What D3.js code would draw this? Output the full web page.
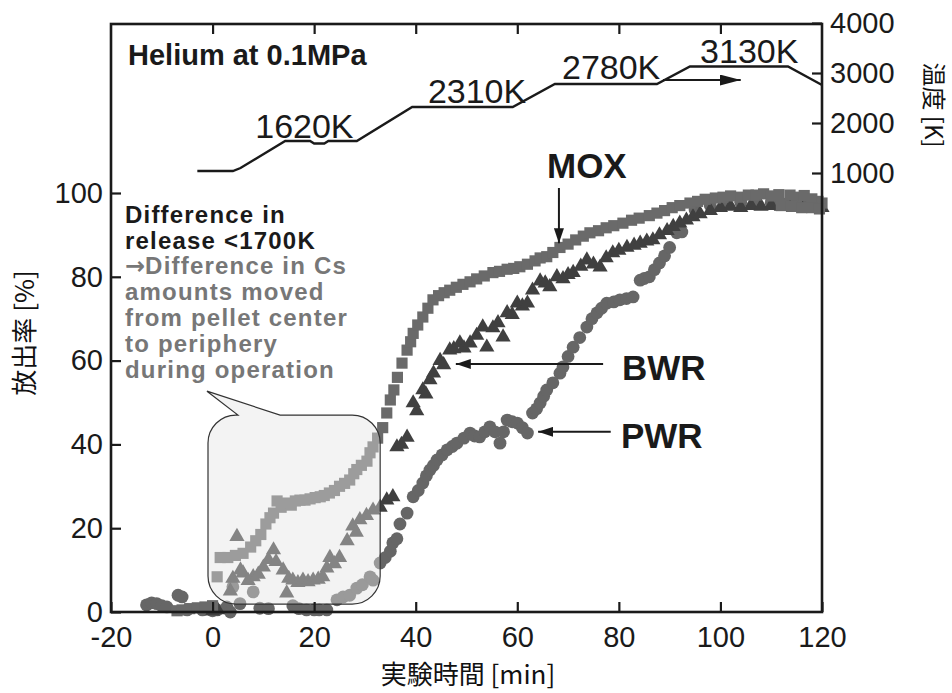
<!DOCTYPE html>
<html>
<head>
<meta charset="utf-8">
<script src="https://d3js.org/d3.v7.min.js"></script>
<style>
  body { margin: 0; background: #fff; }
  svg text { font-family: "Liberation Sans", Arial, sans-serif; }
  .cjk { font-family: "Noto Sans CJK JP", "Liberation Sans", sans-serif; }
</style>
</head>
<body>
<svg id="chart" width="952" height="693"></svg>
<script>
// ---- data ----
let xTicks = [-20, 0, 20, 40, 60, 80, 100, 120];
let yTicks = [0, 20, 40, 60, 80, 100];
let tTicks = [1000, 2000, 3000, 4000];

// temperature programme (K) vs time (min)
let tempTime = [-3, 4, 5.5, 14.3, 19.2, 20, 22, 22.8, 28.4, 39.3, 59.1, 67.4, 87.5, 94, 113.3, 120];
let tempK = [1040, 1040, 1100, 1640, 1640, 1590, 1590, 1640, 1640, 2320, 2320, 2780, 2780, 3130, 3130, 2760];
let tempLabels = ["1620K", "2310K", "2780K", "3130K"];
let tempLabelTime = [8.4, 42.4, 68.8, 96];
let tempLabelK = [1700, 2400, 2880, 3200];

// MOX (squares)
let moxTime = [-7, -6, -4.5, -3, -1.5, 0, 0.9, 1.5, 3, 4.5, 6, 7.5, 8.5, 9.5, 10.5, 11.3, 12, 12.7, 13.5, 14.6,
  15.5, 16.3, 17.2, 18.2, 19.2, 20.2, 21.2, 22, 23, 24, 25, 26, 27, 27.8, 28.4, 29.3, 30.4, 31, 31.6, 32.5,
  33.5, 34.3, 35, 35.7, 36.4, 37.3, 38.3, 39, 39.5, 40.4, 41.4, 42.4, 43.4, 44.5, 45.6, 46.7, 48, 49.3, 50.7, 52,
  53.5, 55.2, 56.5, 58, 59.3, 60.5, 62, 63.5, 64.5, 65.8, 67, 68.4, 70, 71.5, 73, 74.3, 76, 77.5, 79, 80.8,
  82.5, 84, 86, 87.5, 89, 90.5, 92, 94, 95.5, 97, 99, 100.5, 102, 104, 105.5, 107, 108.5, 110, 111.5, 113.7,
  115, 116.5, 118, 119.2, 120, 112, 114, 116, 118, 119.5];
let moxRelease = [0.3, 0.5, 0.8, 1, 1.2, 1.5, 8.4, 13, 13, 13.5, 14, 15.5, 17, 18.5, 21, 22.5, 23.6, 26.5, 25, 26,
  25.5, 26.5, 26.7, 26.7, 27, 27.3, 27.5, 27.8, 28.4, 29, 30, 30.7, 31.5, 33, 34, 35, 36, 38, 39.4, 41.5,
  44, 47.5, 50.6, 53, 56, 59.4, 62.5, 64.5, 66.5, 68.5, 70.4, 72.5, 74.5, 75.5, 76.2, 76.8, 77.5, 78.2, 78.8, 79.5,
  80.2, 81, 81.3, 81.8, 82, 82.4, 83, 83.8, 84.5, 84.8, 85.8, 87, 87.8, 88.8, 89.7, 90.5, 91, 91.7, 92.2, 92.8,
  93.5, 94, 94.6, 95.2, 95.8, 96.5, 97, 97.6, 98, 98.5, 98.8, 99, 99.3, 99, 99.5, 99.5, 99.8, 99.3, 99.6, 99.5,
  99, 99.4, 98.6, 98, 97.6, 97, 96.8, 96.5, 96.5, 96.2];

// BWR (triangles)
let bwrTime = [0, 1, 3.5, 4, 4.8, 5.5, 6, 7, 8, 9, 10, 11, 12, 12.5, 13.9, 14.6, 15, 15.8, 16.8, 17.8, 18.8, 19.8,
  20.8, 21.7, 22.5, 23.1, 24, 25, 26.5, 27.6, 28.3, 29, 30.3, 31.6, 33, 34.3, 35.5, 36.3, 37.2, 38.3, 39.5, 40.2,
  41.4, 42, 42.8, 43.5, 44.8, 45.5, 46.7, 47.5, 48.7, 49.5, 50.7, 52, 53.2, 54, 55.2, 56.2, 57.2, 58, 59, 60,
  61, 62, 63, 64.5, 65.5, 66.4, 67.8, 69, 70, 71, 72.5, 73.7, 75, 76.3, 77.5, 78.8, 80, 81.6, 83, 84.2, 85.5,
  86.7, 88, 89.5, 90.7, 92, 93.3, 94.6, 96, 98, 100, 102, 104, 106, 108, 110, 112, 114, 116, 118, 120];
let bwrRelease = [0.2, 0.5, 5, 8, 18, 10, 9.3, 7.5, 8.4, 9, 10.7, 12.5, 14.8, 12, 10, 4.5, 8, 7.6, 7, 7.6, 7.2, 7.6,
  7.8, 8.4, 10.5, 13, 11.5, 13, 17, 20.5, 19, 22, 23, 24.3, 25, 26.7, 27.5, 39.4, 40, 41.7, 49.9, 48,
  53, 52, 55.4, 57, 60, 59, 62.5, 62.8, 64.2, 63, 64.2, 66, 68, 63.2, 67.8, 69, 65.6, 71.4, 71, 73.7,
  73, 73.7, 76.8, 79, 78.5, 77.6, 80, 79.5, 80.5, 81, 82.5, 84, 83, 82.3, 84.5, 85.7, 86.3, 87, 87.5, 88, 88.5,
  88.8, 90, 91, 92, 92.8, 93.5, 94.3, 95, 95.8, 96.5, 96.8, 96.5, 97, 96.8, 97, 96.8, 97, 96.5, 96.8, 96.5];

// PWR (circles)
let pwrTime = [-13, -12, -11, -10, -9, -6.8, -6, -5, -2, 0, 0.9, 2.8, 3.5, 4, 5.4, 8, 9.3, 11, 15.8, 17, 18.5, 20,
  21, 22.5, 24.5, 25.7, 27, 28.4, 29.5, 31, 31.6, 33, 34, 35, 35.5, 36.3, 36.9, 38.3, 39.5, 40.5, 41.4, 42.1,
  42.8, 43.5, 44.2, 45.2, 46.2, 47.2, 48.1, 49.5, 50.7, 51.6, 52.6, 53.6, 54.6, 55.6, 56.6, 57.3, 58, 59, 60,
  61, 62, 63, 63.8, 64.5, 65.2, 65.8, 67, 68.4, 69, 70, 71, 72.3, 73.7, 74.7, 75.7, 76.6, 77.6, 79, 80.2,
  81.5, 82.8, 84.2, 85, 86, 87, 88, 89, 90, 91.4, 92.4, 95, 98, 101, 104, 107, 110, 113, 116, 119];
let pwrRelease = [1.7, 2.2, 2, 1.5, 1.2, 4, 3.6, 0.5, 0.5, 0.3, 0.5, 1.2, 0, 6, 2, 4.8, 0.9, 0.8, 1.5, 0.8, 0.5, 0.5,
  0.5, 0.5, 2.9, 3.6, 4, 5.7, 6.5, 8.4, 7.6, 11.7, 13, 14.5, 16.5, 17.5, 21, 23.6, 27.5, 29, 30.8, 32.5,
  33.9, 35, 36.3, 37.5, 38.7, 39.5, 40.3, 41.5, 42.7, 42, 41.8, 43, 44.2, 43, 40.3, 43, 45.8, 45.4, 45.1,
  44, 42.7, 47.5, 48.5, 49.9, 51.5, 53, 54.7, 57, 58.5, 61, 63.2, 65.5, 68, 70, 71.4, 72.5, 73.7, 74, 74.5,
  74.8, 75.2, 79.2, 79.6, 80, 81.7, 83.3, 85, 87, 90.5, 90.7, 96, 97, 97.5, 97.8, 97.5, 97.7, 97.4, 97.5, 97];

// annotation text
let noteBlack = ["Difference in", "release <1700K"];
let noteGrey = ["Difference in Cs", "amounts moved", "from pellet center", "to periphery", "during operation"];

// ---- layout ----
let svg = d3.select("#chart");
let padL = 111, padR = 822, padT = 24, padB = 612;

let x = d3.scaleLinear().domain([-20, 120]).range([padL, padR]);
let y = d3.scaleLinear().domain([0, 100]).range([padB, 193]);
let yT = d3.scaleLinear().domain([0, 4000]).range([223, 23]);

let defs = svg.append("defs");
function addHead(id, len, half) {
  defs.append("marker")
    .attr("id", id)
    .attr("viewBox", `0 ${-half} ${len} ${half * 2}`)
    .attr("refX", len).attr("refY", 0)
    .attr("markerUnits", "userSpaceOnUse")
    .attr("markerWidth", len).attr("markerHeight", half * 2)
    .attr("orient", "auto")
    .append("path")
    .attr("d", `M0,${-half}L${len},0L0,${half}Z`)
    .attr("fill", "#1a1a1a");
}
addHead("head", 15, 5);
addHead("headBig", 21, 5.5);

// data points
let pts = svg.append("g");
let pwr = pwrTime.map((t, i) => [t, pwrRelease[i]]);
let bwr = bwrTime.map((t, i) => [t, bwrRelease[i]]);
let mox = moxTime.map((t, i) => [t, moxRelease[i]]);

pts.selectAll(".pwr").data(pwr).enter().append("circle")
  .attr("cx", d => x(d[0])).attr("cy", d => y(d[1]))
  .attr("r", 6.4).attr("fill", "#666");

let tri = d3.symbol().type(d3.symbolTriangle).size(100);
pts.selectAll(".bwr").data(bwr).enter().append("path")
  .attr("d", tri)
  .attr("transform", d => `translate(${x(d[0])},${y(d[1])})`)
  .attr("fill", "#404040");

let sq = d3.symbol().type(d3.symbolSquare).size(125);
pts.selectAll(".mox").data(mox).enter().append("path")
  .attr("d", sq)
  .attr("transform", d => `translate(${x(d[0])},${y(d[1])})`)
  .attr("fill", "#6a6a6a");

// speech bubble, lays a light veil over the early points
let bx0 = x(-0.9), bx1 = x(33), by0 = y(47), by1 = y(1.9), r = 28;
let tip = [x(-1.1), y(52.7)], b1 = x(5), b2 = x(13.3);
let bubble = `M${bx0 + r},${by0}L${b1},${by0}L${tip[0]},${tip[1]}L${b2},${by0}L${bx1 - r},${by0}` +
  `A${r},${r} 0 0 1 ${bx1},${by0 + r}L${bx1},${by1 - r}A${r},${r} 0 0 1 ${bx1 - r},${by1}` +
  `L${bx0 + r},${by1}A${r},${r} 0 0 1 ${bx0},${by1 - r}L${bx0},${by0 + r}A${r},${r} 0 0 1 ${bx0 + r},${by0}Z`;
svg.append("path").attr("d", bubble)
  .attr("fill", "rgb(226,226,226)").attr("fill-opacity", 0.42)
  .attr("stroke", "#333").attr("stroke-width", 1.2);

// temperature line
let line = d3.line().x(d => x(d[0])).y(d => yT(d[1]));
svg.append("path")
  .datum(tempTime.map((t, i) => [t, tempK[i]]))
  .attr("d", line)
  .attr("fill", "none").attr("stroke", "#1a1a1a").attr("stroke-width", 2.4);

svg.selectAll(".tlab").data(tempLabels).enter().append("text")
  .attr("x", (d, i) => x(tempLabelTime[i]))
  .attr("y", (d, i) => yT(tempLabelK[i]))
  .attr("font-size", 34).attr("fill", "#1a1a1a")
  .text(d => d);

svg.append("line")
  .attr("x1", x(88.7)).attr("x2", x(104))
  .attr("y1", yT(2860)).attr("y2", yT(2860))
  .attr("stroke", "#1a1a1a").attr("stroke-width", 2)
  .attr("marker-end", "url(#headBig)");

// frame
svg.append("rect")
  .attr("x", padL).attr("y", padT)
  .attr("width", padR - padL).attr("height", padB - padT)
  .attr("fill", "none").attr("stroke", "#1a1a1a").attr("stroke-width", 2.6);

// axes
function styleAxis(g) {
  g.select(".domain").remove();
  g.selectAll(".tick line").attr("stroke", "#1a1a1a").attr("stroke-width", 2.2);
  g.selectAll(".tick text").attr("fill", "#1a1a1a").attr("font-size", 29)
    .attr("font-family", "Liberation Sans, Arial, sans-serif");
}
let plain = d => String(d);
svg.append("g").attr("transform", `translate(0,${padB})`)
  .call(d3.axisBottom(x).tickValues(xTicks).tickSize(-10).tickPadding(14).tickFormat(plain))
  .call(styleAxis);
svg.append("g").attr("transform", `translate(0,${padT})`)
  .call(d3.axisTop(x).tickValues(xTicks.slice(1, -1)).tickSize(-10).tickFormat(""))
  .call(styleAxis);
svg.append("g").attr("transform", `translate(${padL},0)`)
  .call(d3.axisLeft(y).tickValues(yTicks).tickSize(-10).tickPadding(8).tickFormat(plain))
  .call(styleAxis);
svg.append("g").attr("transform", `translate(${padR},0)`)
  .call(d3.axisRight(yT).tickValues(tTicks).tickSize(-10).tickPadding(8).tickFormat(plain))
  .call(styleAxis);

// axis titles
svg.append("text").attr("class", "cjk")
  .attr("x", 468).attr("y", 684).attr("text-anchor", "middle")
  .attr("font-size", 26).attr("fill", "#111")
  .text("実験時間 [min]");
svg.append("text").attr("class", "cjk")
  .attr("transform", "translate(34,333) rotate(-90)").attr("text-anchor", "middle")
  .attr("font-size", 26).attr("fill", "#111")
  .text("放出率 [%]");
svg.append("text").attr("class", "cjk")
  .attr("transform", "translate(925,105) rotate(90)").attr("text-anchor", "middle")
  .attr("font-size", 24).attr("fill", "#111")
  .text("温度 [K]");

// labels and pointers
svg.append("text").attr("x", 128).attr("y", 65)
  .attr("font-size", 29).attr("font-weight", "bold").attr("fill", "#1a1a1a")
  .text("Helium at 0.1MPa");

let bold = { "font-size": 35, "font-weight": "bold", "fill": "#1a1a1a" };
function label(txt, t, v, anchor) {
  let el = svg.append("text").attr("x", x(t)).attr("y", y(v)).attr("text-anchor", anchor).text(txt);
  Object.keys(bold).forEach(k => el.attr(k, bold[k]));
}
label("MOX", 73.7, 103.6, "middle");
label("BWR", 80.6, 55.4, "start");
label("PWR", 80.4, 39.1, "start");

function pointer(t1, v1, t2, v2) {
  svg.append("line")
    .attr("x1", x(t1)).attr("y1", y(v1)).attr("x2", x(t2)).attr("y2", y(v2))
    .attr("stroke", "#1a1a1a").attr("stroke-width", 2)
    .attr("marker-end", "url(#head)");
}
pointer(68.2, 101.2, 68.2, 88);
pointer(76.9, 59.2, 47.9, 59.2);
pointer(78.4, 43, 64.1, 43);

// note text
let note = svg.append("g").attr("font-size", 24).attr("font-weight", "bold").attr("letter-spacing", 1.2);
noteBlack.forEach((s, i) => {
  note.append("text").attr("x", 125).attr("y", 223 + i * 25.8).attr("fill", "#1a1a1a").text(s);
});
noteGrey.forEach((s, i) => {
  let t = note.append("text").attr("x", 125).attr("y", 274 + i * 26).attr("fill", "#777");
  if (i == 0) {
    // the arrow glyph is wider in the original
    t.append("tspan").attr("font-family", "DejaVu Sans").attr("letter-spacing", 0).text("\u2192");
    t.append("tspan").text(s);
  } else {
    t.text(s);
  }
});
</script>
</body>
</html>
